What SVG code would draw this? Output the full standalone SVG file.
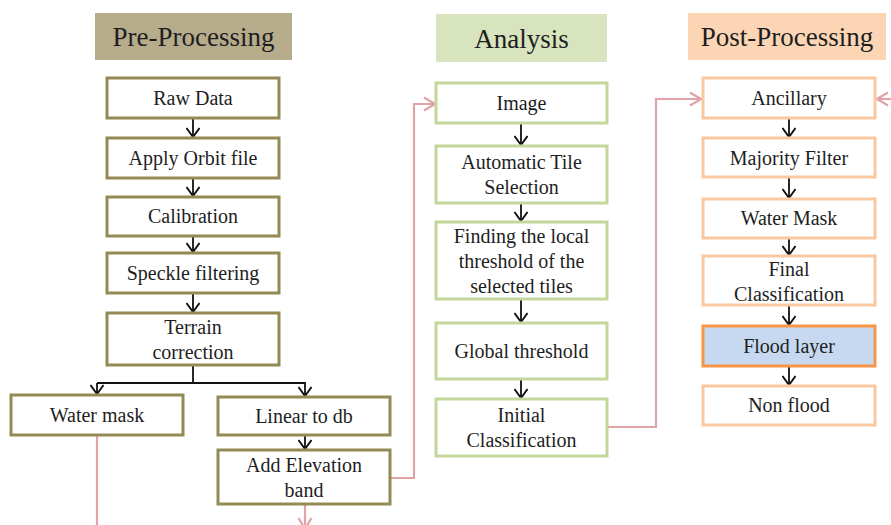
<svg xmlns="http://www.w3.org/2000/svg" width="891" height="525" viewBox="0 0 891 525">
<defs>
<style>
text{font-family:"Liberation Serif","Times New Roman",serif;fill:#1e1e1e;text-anchor:middle}
.hd{font-size:27px}
.t{font-size:20px}
.pre{fill:#fff;stroke:#948a54;stroke-width:3}
.ana{fill:#fff;stroke:#c3d69b;stroke-width:3}
.post{fill:#fff;stroke:#fac8a0;stroke-width:3}
.blk{stroke:#111;stroke-width:1.8;fill:none}
.pk{stroke:#e0a3a6;stroke-width:2.2;fill:none}
</style>
<marker id="ab" markerUnits="userSpaceOnUse" markerWidth="14" markerHeight="14" viewBox="0 0 14 14" refX="13" refY="7" orient="auto">
<path d="M4,0.5 L13,7 L4,13.5" fill="none" stroke="#111" stroke-width="1.9"/>
</marker>
<marker id="ap" markerUnits="userSpaceOnUse" markerWidth="16" markerHeight="16" viewBox="0 0 16 16" refX="15" refY="8" orient="auto">
<path d="M4,1.5 L15,8 L4,14.5" fill="none" stroke="#e0a3a6" stroke-width="2.2"/>
</marker>
</defs>
<rect width="891" height="525" fill="#ffffff"/>

<g id="hdr-pre"><rect x="95" y="13" width="197" height="47" fill="#b6ac8c"/><text class="hd" x="193.5" y="46">Pre-Processing</text></g>
<g id="hdr-ana"><rect x="436" y="14" width="171" height="48" fill="#d7e4bd"/><text class="hd" x="521.5" y="48">Analysis</text></g>
<g id="hdr-post"><rect x="688" y="13" width="198" height="47" fill="#fcd5b5"/><text class="hd" x="787" y="46">Post-Processing</text></g>

<g id="connectors">
<line class="blk" x1="193" y1="118" x2="193" y2="137" marker-end="url(#ab)"/>
<line class="blk" x1="193" y1="178" x2="193" y2="196" marker-end="url(#ab)"/>
<line class="blk" x1="193" y1="236" x2="193" y2="252" marker-end="url(#ab)"/>
<line class="blk" x1="193" y1="293" x2="193" y2="312" marker-end="url(#ab)"/>
<polyline class="blk" points="193,365 193,383"/>
<polyline class="blk" points="97,383 305,383 305,396" marker-end="url(#ab)"/>
<line class="blk" x1="97" y1="383" x2="97" y2="394" marker-end="url(#ab)"/>
<line class="blk" x1="305" y1="435" x2="305" y2="449" marker-end="url(#ab)"/>

<line class="blk" x1="521" y1="123" x2="521" y2="145" marker-end="url(#ab)"/>
<line class="blk" x1="521" y1="203" x2="521" y2="221" marker-end="url(#ab)"/>
<line class="blk" x1="521" y1="299" x2="521" y2="322" marker-end="url(#ab)"/>
<line class="blk" x1="521" y1="379" x2="521" y2="398" marker-end="url(#ab)"/>

<line class="blk" x1="789" y1="118" x2="789" y2="137" marker-end="url(#ab)"/>
<line class="blk" x1="789" y1="177" x2="789" y2="198" marker-end="url(#ab)"/>
<line class="blk" x1="789" y1="238" x2="789" y2="255" marker-end="url(#ab)"/>
<line class="blk" x1="789" y1="305" x2="789" y2="325" marker-end="url(#ab)"/>
<line class="blk" x1="789" y1="366" x2="789" y2="385" marker-end="url(#ab)"/>

<polyline class="pk" points="390,478 414,478 414,104 435,104" marker-end="url(#ap)"/>
<polyline class="pk" points="607,427 656,427 656,99 701,99" marker-end="url(#ap)"/>
<polyline class="pk" points="891,99 877,99" marker-end="url(#ap)"/>
<line class="pk" x1="97" y1="435" x2="97" y2="525"/>
<line class="pk" x1="305" y1="504" x2="305" y2="529" marker-end="url(#ap)"/>
</g>

<g id="n-raw"><rect class="pre" x="107" y="78" width="172" height="40"/><text class="t" x="193" y="105">Raw Data</text></g>
<g id="n-orbit"><rect class="pre" x="107" y="138" width="172" height="40"/><text class="t" x="193" y="165">Apply Orbit file</text></g>
<g id="n-cal"><rect class="pre" x="107" y="197" width="172" height="39"/><text class="t" x="193" y="223">Calibration</text></g>
<g id="n-speckle"><rect class="pre" x="107" y="253" width="172" height="40"/><text class="t" x="193" y="280">Speckle filtering</text></g>
<g id="n-terrain"><rect class="pre" x="107" y="313" width="172" height="52"/><text class="t" x="193" y="334">Terrain</text><text class="t" x="193" y="359">correction</text></g>
<g id="n-watermask"><rect class="pre" x="11" y="395" width="172" height="40"/><text class="t" x="97" y="422">Water mask</text></g>
<g id="n-lin"><rect class="pre" x="218" y="397" width="172" height="38"/><text class="t" x="304" y="423">Linear to db</text></g>
<g id="n-elev"><rect class="pre" x="218" y="450" width="172" height="54"/><text class="t" x="304" y="472">Add Elevation</text><text class="t" x="304" y="497">band</text></g>

<g id="n-image"><rect class="ana" x="436" y="83" width="171" height="40"/><text class="t" x="521.5" y="110">Image</text></g>
<g id="n-tile"><rect class="ana" x="436" y="146" width="171" height="57"/><text class="t" x="521.5" y="169">Automatic Tile</text><text class="t" x="521.5" y="194">Selection</text></g>
<g id="n-local"><rect class="ana" x="436" y="222" width="171" height="77"/><text class="t" x="521.5" y="243">Finding the local</text><text class="t" x="521.5" y="268">threshold of the</text><text class="t" x="521.5" y="293">selected tiles</text></g>
<g id="n-global"><rect class="ana" x="436" y="323" width="171" height="56"/><text class="t" x="521.5" y="358">Global threshold</text></g>
<g id="n-initial"><rect class="ana" x="436" y="399" width="171" height="57"/><text class="t" x="521.5" y="422">Initial</text><text class="t" x="521.5" y="447">Classification</text></g>

<g id="n-anc"><rect class="post" x="703" y="78" width="172" height="40"/><text class="t" x="789" y="105">Ancillary</text></g>
<g id="n-maj"><rect class="post" x="703" y="138" width="172" height="39"/><text class="t" x="789" y="165">Majority Filter</text></g>
<g id="n-wm"><rect class="post" x="703" y="199" width="172" height="39"/><text class="t" x="789" y="225">Water Mask</text></g>
<g id="n-final"><rect class="post" x="703" y="256" width="172" height="49"/><text class="t" x="789" y="276">Final</text><text class="t" x="789" y="301">Classification</text></g>
<g id="n-flood"><rect x="703" y="326" width="172" height="40" fill="#c6d9f1" stroke="#f79646" stroke-width="3"/><text class="t" x="789" y="353">Flood layer</text></g>
<g id="n-nonflood"><rect class="post" x="703" y="386" width="172" height="39"/><text class="t" x="789" y="412">Non flood</text></g>
</svg>
